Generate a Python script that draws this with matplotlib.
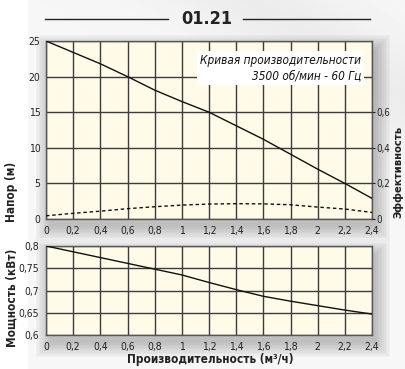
import matplotlib
matplotlib.use("Agg")
import matplotlib.pyplot as plt
import numpy as np
from matplotlib.patches import FancyBboxPatch

plt.rcParams['font.family'] = ['Liberation Sans Narrow', 'DejaVu Sans']
plt.rcParams['font.stretch'] = 'condensed'

# Flow (m3/h) and curve readings
flow = [0, 0.2, 0.4, 0.6, 0.8, 1.0, 1.2, 1.4, 1.6, 1.8, 2.0, 2.2, 2.4]
head = [25, 23.4, 21.8, 20, 18.1, 16.5, 15, 13.1, 11.2, 9.1, 7.0, 5.0, 2.9]
efficiency = [0.018, 0.032, 0.044, 0.058, 0.069, 0.078, 0.084, 0.086, 0.085, 0.080, 0.067, 0.056, 0.037]
power = [0.8, 0.787, 0.774, 0.761, 0.748, 0.735, 0.718, 0.702, 0.687, 0.676, 0.666, 0.656, 0.647]

x_ticks = [0, 0.2, 0.4, 0.6, 0.8, 1, 1.2, 1.4, 1.6, 1.8, 2, 2.2, 2.4]
x_labels = ['0', '0,2', '0,4', '0,6', '0,8', '1', '1,2', '1,4', '1,6', '1,8', '2', '2,2', '2,4']
head_ticks = [0, 5, 10, 15, 20, 25]
eff_ticks = [0, 0.2, 0.4, 0.6]
eff_labels = ['0', '0,2', '0,4', '0,6']
power_ticks = [0.6, 0.65, 0.7, 0.75, 0.8]
power_labels = ['0,6', '0,65', '0,7', '0,75', '0,8']

face = '#fffbe8'
grid_c = '#3c3c3c'
W, H = 405, 369

fig = plt.figure(figsize=(W / 100, H / 100), dpi=100)

# soft grey backdrop with a lighter diagonal sweep
bg = fig.add_axes([0, 0, 1, 1], zorder=-10)
yy, xx = np.mgrid[0:H, 0:W]
base = np.full((H, W), 0.965)
base[:, :28] = 1.0
sweep = np.exp(-((xx - 1.6 * yy - 250) / 90.0) ** 2) * 0.04
img = np.clip(base - sweep, 0, 1)
bg.imshow(img, cmap='gray', vmin=0, vmax=1, extent=[0, 1, 0, 1], aspect='auto')
bg.axis('off')


def shadow(x0, y0, x1, y1):
    # blurred drop shadow behind a panel, pixel coords from the top
    for i in range(10):
        d = i * 1.6
        r = FancyBboxPatch(((x0 + 4 - d) / W, 1 - (y1 + 8 + d) / H),
                           (x1 - x0 + 2 * d) / W, (y1 - y0 + 2 * d) / H,
                           boxstyle='square,pad=0', transform=fig.transFigure,
                           facecolor='black', edgecolor='none', alpha=0.025, zorder=-5)
        fig.patches.append(r)


shadow(46, 41, 372, 219)
shadow(46, 246, 372, 335)

ax1 = fig.add_axes([46 / W, 1 - 219 / H, 326 / W, 178 / H])
ax2 = fig.add_axes([46 / W, 1 - 335 / H, 326 / W, 89 / H])

for ax in (ax1, ax2):
    ax.set_facecolor(face)
    ax.set_xlim(0, 2.4)
    ax.set_xticks(x_ticks)
    ax.set_xticklabels(x_labels)
    ax.grid(True, color=grid_c, linewidth=1.0)
    ax.set_axisbelow(True)
    ax.tick_params(length=0, labelsize=7.5, colors='#222222', pad=5)
    for s in ax.spines.values():
        s.set_color('#555555')
        s.set_linewidth(1.0)

# head curve
ax1.plot(flow, head, color='#111111', linewidth=1.0, zorder=3)
ax1.set_ylim(0, 25)
ax1.set_yticks(head_ticks)
ax1.tick_params(axis='y', pad=4)

# efficiency on the right scale
ax1r = ax1.twinx()
ax1r.plot(flow, efficiency, color='#111111', linewidth=1.0, linestyle=(0, (2.5, 2)), zorder=3)
ax1r.set_ylim(0, 1.0)
ax1r.set_yticks(eff_ticks)
ax1r.set_yticklabels(eff_labels)
ax1r.tick_params(axis='y', length=2.5, width=0.8, labelsize=7, colors='#222222', pad=0.5)
for s in ax1r.spines.values():
    s.set_visible(False)

ax1.text(2.32, 23.2, 'Кривая производительности\n3500 об/мин - 60 Гц',
         ha='right', va='top', fontsize=8.5, style='italic', color='#111111',
         linespacing=1.25, zorder=5,
         bbox=dict(boxstyle='square,pad=0.25', facecolor='white', edgecolor='none'))

# power curve
ax2.plot(flow, power, color='#111111', linewidth=1.0, zorder=3)
ax2.set_ylim(0.6, 0.8)
ax2.set_yticks(power_ticks)
ax2.set_yticklabels(power_labels)

# axis titles
fig.text(12 / W, 1 - 192 / H, 'Напор (м)', rotation=90, ha='center', va='center',
         fontsize=8.5, fontweight='bold', color='#222222')
fig.text(12 / W, 1 - 298 / H, 'Мощность (кВт)', rotation=90, ha='center', va='center',
         fontsize=8.5, fontweight='bold', color='#222222')
fig.text(398 / W, 1 - 172 / H, 'Эффективность', rotation=90, ha='center', va='center',
         fontsize=8, fontweight='bold', color='#222222')
fig.text(210 / W, 1 - 359 / H, 'Производительность (м³/ч)', ha='center', va='center',
         fontsize=8.5, fontweight='bold', color='#222222')

# header with rules on both sides
fig.text(207 / W, 1 - 19 / H, '01.21', ha='center', va='center',
         fontsize=13, fontweight='bold', color='#222222')
fig.add_artist(plt.Line2D([45 / W, 168 / W], [1 - 19 / H] * 2, color='#222222', linewidth=1.0))
fig.add_artist(plt.Line2D([243 / W, 370 / W], [1 - 19 / H] * 2, color='#222222', linewidth=1.0))

fig.savefig('out.png', dpi=100)
